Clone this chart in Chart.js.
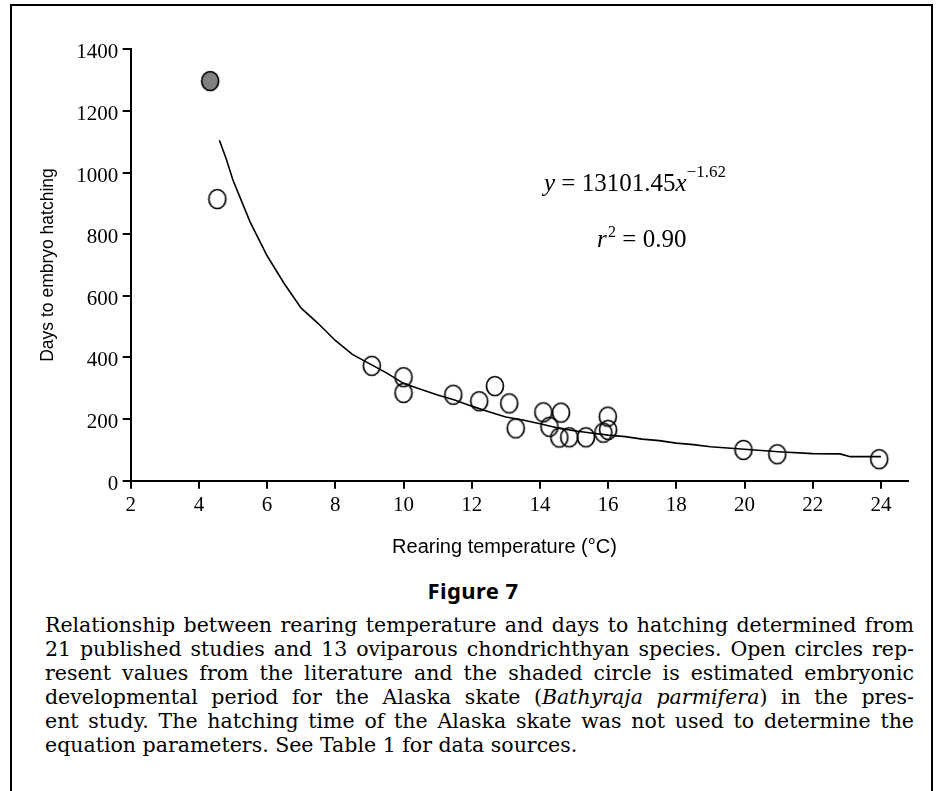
<!DOCTYPE html>
<html>
<head>
<meta charset="utf-8">
<script src="https://cdn.jsdelivr.net/npm/chart.js@4.4.1/dist/chart.umd.min.js"></script>
<style>
    html, body { margin: 0; padding: 0; background: #fff; }
    body { width: 938px; height: 791px; position: relative; overflow: hidden; }
    .moldura { position: absolute; left: 10px; top: 4px; width: 919px; height: 820px; border: 2px solid #000; }
    .grafico { position: absolute; left: 0; top: 0; width: 938px; height: 560px; }
    .equacao { position: absolute; font-family: "Liberation Serif", serif; font-size: 25px; line-height: 25px; color: #000; white-space: nowrap; }
    .equacao sup { font-size: 17px; vertical-align: 14px; line-height: 0; }
    .figura { position: absolute; left: 323px; top: 579px; width: 300px; text-align: center; font-family: "Noto Sans", sans-serif; font-weight: bold; font-size: 22px; line-height: 22px; letter-spacing: 0.4px; }
    .legenda { position: absolute; left: 45px; top: 613px; width: 869px; font-family: "DejaVu Serif", serif; font-size: 20.5px; line-height: 24px; color: #000; }
    .linha { text-align: justify; text-align-last: justify; white-space: nowrap; }
    .linha.ultima { text-align: left; text-align-last: left; }
</style>
</head>
<body>
<div class="moldura"></div>
<div class="grafico"><canvas id="chart"></canvas></div>

<div class="equacao" style="left: 544px; top: 170px;"><i>y</i> = 13101.45<i>x</i><sup>−1.62</sup></div>
<div class="equacao" style="left: 597px; top: 226px;"><i>r</i><sup style="font-size:16px; vertical-align:10px;">&#8202;2</sup> = 0.90</div>

<div class="figura">Figure 7</div>
<div class="legenda">
    <div class="linha">Relationship between rearing temperature and days to hatching determined from</div>
    <div class="linha">21 published studies and 13 oviparous chondrichthyan species. Open circles rep-</div>
    <div class="linha">resent values from the literature and the shaded circle is estimated embryonic</div>
    <div class="linha">developmental period for the Alaska skate (<i>Bathyraja parmifera</i>) in the pres-</div>
    <div class="linha">ent study. The hatching time of the Alaska skate was not used to determine the</div>
    <div class="linha ultima">equation parameters. See Table 1 for data sources.</div>
</div>

<script>
// valores
const temperaturas = [4.54, 9.07, 10.0, 10.0, 11.46, 12.22, 12.68, 13.10, 13.29, 14.10, 14.28,
    14.57, 14.62, 14.86, 15.35, 15.86, 15.99, 16.0, 19.97, 20.96, 23.95];
const diasEclosao = [914, 373, 336, 285, 279, 258, 307, 251, 170, 222, 175,
    140, 221, 141, 141, 156, 208, 165, 100, 86, 70];

// raia do Alasca (circulo cinza)
const skateTemp = [4.33];
const skateDias = [1297];

// curva ajustada, lida ponto a ponto
const curvaTemp = [4.6, 4.8, 5.0, 5.5, 6.0, 6.5, 7.0, 7.5, 8.0, 8.5, 9.0, 9.5, 10.0, 10.5, 11.0, 11.5,
    12.0, 12.5, 13.0, 13.5, 14.0, 14.5, 15.0, 15.5, 16.0, 16.5, 17.0, 17.5, 18.0, 18.5, 19.0, 19.5,
    20.0, 21.0, 22.0, 22.8, 23.1, 24.0];
const curvaDias = [1105, 1045, 975, 840, 730, 640, 560, 510, 455, 410, 380, 350, 316, 297, 278, 262,
    242, 224, 207, 197, 185, 172, 162, 155, 148, 143, 135, 130, 122, 117, 110, 106,
    102, 94, 88, 87, 78, 78];

const ticksX = [2, 4, 6, 8, 10, 12, 14, 16, 18, 20, 22, 24];
const ticksY = [0, 200, 400, 600, 800, 1000, 1200, 1400];

// circulo um pouco mais alto que largo, como no original
function criarCirculo(preenchimento) {
    const c = document.createElement('canvas');
    c.width = 22;
    c.height = 24;
    const ctx = c.getContext('2d');
    ctx.beginPath();
    ctx.ellipse(11, 12, 8.5, 9.5, 0, 0, Math.PI * 2);
    if (preenchimento) {
        ctx.fillStyle = preenchimento;
        ctx.fill();
    }
    ctx.lineWidth = 1.7;
    ctx.strokeStyle = '#000';
    ctx.stroke();
    return c;
}

const juntar = (xs, ys) => xs.map((x, i) => ({ x: x, y: ys[i] }));

const fonteTicks = { family: '"Liberation Serif", serif', size: 21 };
const grade = {
    drawOnChartArea: false,
    drawTicks: true,
    tickLength: 8,
    tickWidth: 2,
    tickColor: '#000',
    color: '#000',
    lineWidth: 2
};

new Chart(document.getElementById('chart'), {
    type: 'scatter',
    data: {
        datasets: [
            {
                data: juntar(curvaTemp, curvaDias),
                showLine: true,
                borderColor: '#000',
                borderWidth: 1.6,
                pointRadius: 0,
                tension: 0,
                fill: false
            },
            {
                data: juntar(temperaturas, diasEclosao),
                pointStyle: criarCirculo(null),
                pointRadius: 9,
                borderColor: '#000',
                backgroundColor: 'rgba(0,0,0,0)'
            },
            {
                data: juntar(skateTemp, skateDias),
                pointStyle: criarCirculo('#808080'),
                pointRadius: 9,
                borderColor: '#000',
                backgroundColor: '#808080'
            }
        ]
    },
    options: {
        responsive: true,
        maintainAspectRatio: false,
        animation: false,
        layout: {
            padding: { left: 0, top: 49.3, right: 29.8, bottom: 0 }
        },
        plugins: {
            legend: { display: false },
            tooltip: { enabled: false }
        },
        scales: {
            x: {
                type: 'linear',
                min: 2,
                max: 24.8,
                afterBuildTicks: s => { s.ticks = ticksX.map(v => ({ value: v })); },
                afterFit: s => { s.height = 79.3; },
                ticks: { color: '#000', font: fonteTicks, padding: 4, maxRotation: 0, callback: v => String(v) },
                grid: grade,
                border: { color: '#000', width: 2 },
                title: {
                    display: true,
                    // espacos no fim empurram o titulo um pouco para a esquerda, como no original
                    text: 'Rearing temperature (°C)\u2002\u2002\u2002',
                    color: '#000',
                    font: { family: '"Liberation Sans", Arial, sans-serif', size: 20 },
                    padding: { top: 0, bottom: 0.3 }
                }
            },
            y: {
                type: 'linear',
                min: 0,
                max: 1400,
                afterBuildTicks: s => { s.ticks = ticksY.map(v => ({ value: v })); },
                afterFit: s => { s.width = 130.7; },
                ticks: { color: '#000', font: fonteTicks, padding: 4.4, labelOffset: 3.5, callback: v => String(v) },
                grid: grade,
                border: { color: '#000', width: 2 },
                title: {
                    display: true,
                    text: 'Days to embryo hatching',
                    color: '#000',
                    font: { family: '"Liberation Sans", Arial, sans-serif', size: 17.5 },
                    padding: { top: 37.5, bottom: 0 }
                }
            }
        }
    }
});
</script>
</body>
</html>
